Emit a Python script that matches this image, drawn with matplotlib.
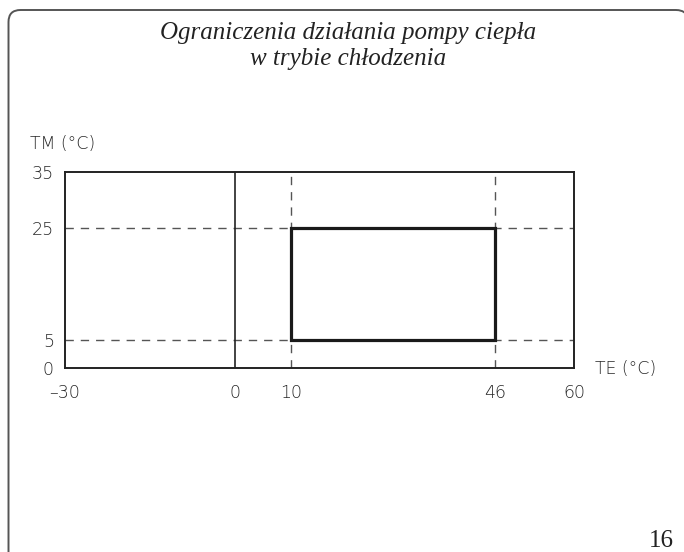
import matplotlib
matplotlib.use("Agg")
import matplotlib.pyplot as plt
from matplotlib.patches import PathPatch, Rectangle
from matplotlib.path import Path

# operating limits of the heat pump in cooling mode
te_limits = [10, 46]     # outdoor temp TE (°C)
tm_limits = [5, 25]      # water temp TM (°C)
x_range = [-30, 60]
y_range = [0, 35]
x_ticks = [-30, 0, 10, 46, 60]
y_ticks = [0, 5, 25, 35]
title = "Ograniczenia działania pompy ciepła\nw trybie chłodzenia"
page_no = "16"

W, H = 684, 552
fig = plt.figure(figsize=(W / 100, H / 100), dpi=100)
ax = fig.add_axes([65 / W, 1 - 368.3 / H, 509.3 / W, 196.6 / H])

ax.set_xlim(x_range)
ax.set_ylim(y_range)

# dashed guides through the limit values
dash = dict(color="#555555", lw=1.0, ls=(0, (6, 5)), zorder=1)
for v in tm_limits:
    ax.axhline(v, **dash)
for v in te_limits:
    ax.axvline(v, **dash)
ax.axvline(0, color="#222222", lw=1.2, zorder=2)

# operating envelope
ax.add_patch(Rectangle((te_limits[0], tm_limits[0]),
                       te_limits[1] - te_limits[0], tm_limits[1] - tm_limits[0],
                       fill=False, ec="#1a1a1a", lw=2.3, zorder=3))

for s in ax.spines.values():
    s.set_linewidth(1.4)
    s.set_color("#222222")

tick_font = dict(family=["DejaVu Sans"], weight="light", size=12.5, color="#262626")
ax.set_xticks(x_ticks)
ax.set_xticklabels([str(t).replace("-", "\u2013") for t in x_ticks], **tick_font)
ax.set_yticks(y_ticks)
ax.set_yticklabels([str(t) for t in y_ticks], **tick_font)
ax.tick_params(length=0)
ax.tick_params(axis="x", pad=11)
ax.tick_params(axis="y", pad=8)

fig.text(30 / W, 1 - 144 / H, "TM (°C)", ha="left", va="center", **tick_font)
fig.text(595 / W, 1 - 369 / H, "TE (°C)", ha="left", va="center", **tick_font)

# va="baseline" anchors the last line of a multi-line text
fig.text(348 / W, 1 - 65 / H, title, ha="center", va="baseline",
         family="Liberation Serif", style="italic", size=18, linespacing=1.22,
         color="#222222")
fig.text(674 / W, 1 - 547 / H, page_no, ha="right", va="baseline",
         family="Liberation Serif", size=18, color="#222222")

# page frame: left side and top with rounded corners, in figure fractions
r = 12
left, top, right = 8.5, H - 10, 688
pts = [(left, -5), (left, top - r), (left, top), (left + r, top),
       (right - r, top), (right, top), (right, top - r), (right, -5)]
codes = [Path.MOVETO, Path.LINETO, Path.CURVE3, Path.CURVE3,
         Path.LINETO, Path.CURVE3, Path.CURVE3, Path.LINETO]
frame_path = Path([(x / W, y / H) for x, y in pts], codes)
fig.add_artist(PathPatch(frame_path, transform=fig.transFigure, fill=False,
                         ec="#555555", lw=1.4, clip_on=False))

fig.savefig("out.png", dpi=100)
